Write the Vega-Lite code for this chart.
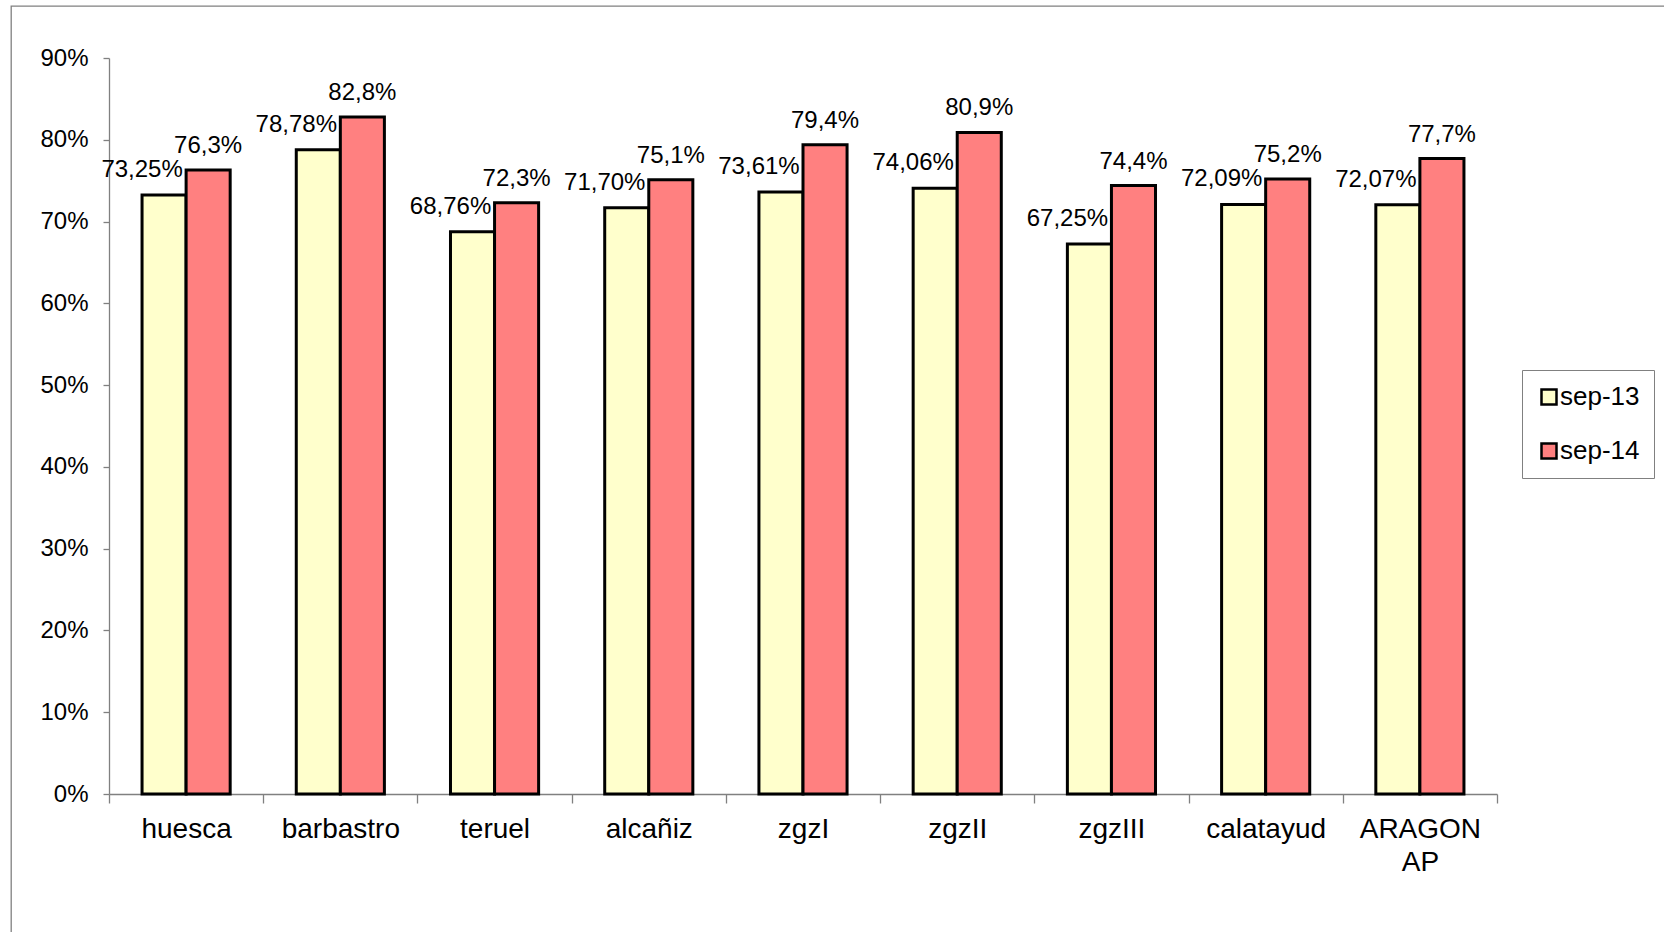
{
  "$schema": "https://vega.github.io/schema/vega-lite/v6.json",
  "width": 1655,
  "height": 928,
  "autosize": {"type": "none"},
  "padding": {"left": 11, "top": 6, "right": -2, "bottom": -2},
  "background": "white",
  "config": {
    "font": "Liberation Sans",
    "view": {"stroke": "#808080", "strokeWidth": 1.3}
  },
  "data": {
    "values": [
      {"site": "huesca", "series": "sep-13", "value": 0.7325, "lbl": "73,25%"},
      {"site": "huesca", "series": "sep-14", "value": 0.763, "lbl": "76,3%"},
      {"site": "barbastro", "series": "sep-13", "value": 0.7878, "lbl": "78,78%"},
      {"site": "barbastro", "series": "sep-14", "value": 0.828, "lbl": "82,8%"},
      {"site": "teruel", "series": "sep-13", "value": 0.6876, "lbl": "68,76%"},
      {"site": "teruel", "series": "sep-14", "value": 0.723, "lbl": "72,3%"},
      {"site": "alcañiz", "series": "sep-13", "value": 0.717, "lbl": "71,70%"},
      {"site": "alcañiz", "series": "sep-14", "value": 0.751, "lbl": "75,1%"},
      {"site": "zgzI", "series": "sep-13", "value": 0.7361, "lbl": "73,61%"},
      {"site": "zgzI", "series": "sep-14", "value": 0.794, "lbl": "79,4%"},
      {"site": "zgzII", "series": "sep-13", "value": 0.7406, "lbl": "74,06%"},
      {"site": "zgzII", "series": "sep-14", "value": 0.809, "lbl": "80,9%"},
      {"site": "zgzIII", "series": "sep-13", "value": 0.6725, "lbl": "67,25%"},
      {"site": "zgzIII", "series": "sep-14", "value": 0.744, "lbl": "74,4%"},
      {"site": "calatayud", "series": "sep-13", "value": 0.7209, "lbl": "72,09%"},
      {"site": "calatayud", "series": "sep-14", "value": 0.752, "lbl": "75,2%"},
      {"site": "ARAGON AP", "series": "sep-13", "value": 0.7207, "lbl": "72,07%"},
      {"site": "ARAGON AP", "series": "sep-14", "value": 0.777, "lbl": "77,7%"}
    ]
  },
  "encoding": {
    "x": {
      "field": "site",
      "type": "nominal",
      "sort": null,
      "scale": {"range": [98, 1486], "paddingInner": 0, "paddingOuter": 0},
      "axis": {
        "title": null,
        "orient": "bottom",
        "offset": -140,
        "labelAngle": 0,
        "labelFontSize": 28,
        "labelColor": "black",
        "labelPadding": 12,
        "labelLineHeight": 33,
        "labelExpr": "split(datum.label, ' ')",
        "tickBand": "extent",
        "tickSize": 9,
        "tickColor": "#808080",
        "tickWidth": 1.3,
        "domainColor": "#808080",
        "domainWidth": 1.3,
        "grid": false
      }
    },
    "xOffset": {
      "field": "series",
      "type": "nominal",
      "scale": {"paddingInner": 0, "paddingOuter": 0.75}
    },
    "y": {
      "field": "value",
      "type": "quantitative",
      "scale": {"domain": [0, 0.9], "range": [788, 52], "nice": false, "zero": true},
      "axis": {
        "title": null,
        "values": [0, 0.1, 0.2, 0.3, 0.4, 0.5, 0.6, 0.7, 0.8, 0.9],
        "format": ".0%",
        "offset": -98,
        "labelFontSize": 24,
        "labelColor": "black",
        "labelPadding": 15,
        "tickSize": 6,
        "tickColor": "#808080",
        "tickWidth": 1.3,
        "domainColor": "#808080",
        "domainWidth": 1.3,
        "grid": false
      }
    }
  },
  "layer": [
    {
      "mark": {"type": "bar", "stroke": "black", "strokeWidth": 3},
      "encoding": {
        "fill": {
          "field": "series",
          "type": "nominal",
          "scale": {"domain": ["sep-13", "sep-14"], "range": ["#FFFFCC", "#FF8080"]},
          "legend": {
            "title": null,
            "orient": "none",
            "legendX": 1511,
            "legendY": 364,
            "strokeColor": "#808080",
            "fillColor": "white",
            "padding": 14,
            "labelFontSize": 26,
            "labelColor": "black",
            "symbolType": "square",
            "symbolSize": 225,
            "symbolStrokeColor": "black",
            "symbolStrokeWidth": 2.5,
            "symbolOffset": 0,
            "labelOffset": -2,
            "rowPadding": 28
          }
        }
      }
    },
    {
      "transform": [{"filter": "datum.series == 'sep-13'"}],
      "mark": {"type": "text", "fontSize": 24, "baseline": "middle", "align": "center", "dx": -22, "dy": -25, "color": "black"},
      "encoding": {"text": {"field": "lbl", "type": "nominal"}}
    },
    {
      "transform": [{"filter": "datum.series == 'sep-14'"}],
      "mark": {"type": "text", "fontSize": 24, "baseline": "middle", "align": "center", "dy": -24, "color": "black"},
      "encoding": {"text": {"field": "lbl", "type": "nominal"}}
    }
  ]
}
